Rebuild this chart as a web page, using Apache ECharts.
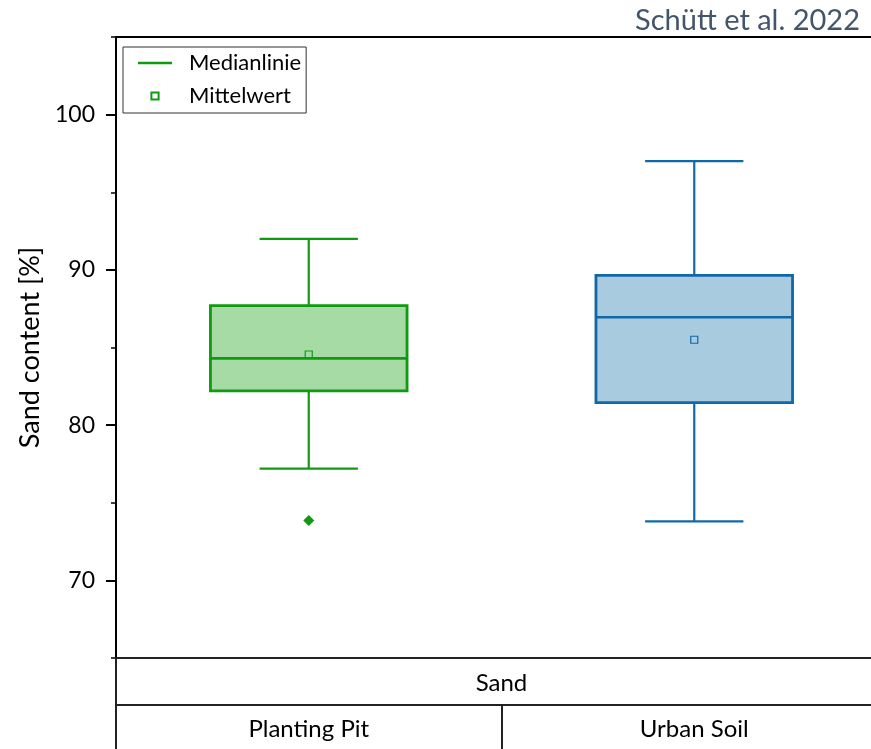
<!DOCTYPE html>
<html>
<head>
<meta charset="utf-8">
<script src="https://cdn.jsdelivr.net/npm/echarts@6/dist/echarts.min.js"></script>
<style>
  html, body { margin: 0; padding: 0; background: #fff; }
  #chart { width: 871px; height: 749px; }
</style>
</head>
<body>
<div id="chart"></div>
<script>
// Sand content per site: box statistics
const categories = ['Planting Pit', 'Urban Soil'];
const groupLabel = ['Sand'];
const lowerWhisker = [77.2, 73.8];
const q1 = [82.2, 81.45];
const median = [84.3, 86.95];
const q3 = [87.7, 89.65];
const upperWhisker = [92.0, 97.0];
const means = [84.55, 85.5];
const outliers = [[0, 73.85]];
const yTickLabels = [70, 80, 90, 100];
const yMinorTicks = [65, 75, 85, 95, 105];

const FONT = 'Lato';
const strokeColors = ['#109A10', '#1068A8'];
const fillColors = ['#A6DBA6', '#A8CBE0'];

const boxData = categories.map((c, i) => [i, lowerWhisker[i], q1[i], median[i], q3[i], upperWhisker[i]]);

function renderBox(params, api) {
  const i = api.value(0);
  const lo = api.coord([i, api.value(1)]);
  const b1 = api.coord([i, api.value(2)]);
  const md = api.coord([i, api.value(3)]);
  const b3 = api.coord([i, api.value(4)]);
  const hi = api.coord([i, api.value(5)]);
  const bw = api.size([1, 0])[0] * 0.51;
  const cw = bw / 2;
  const x = lo[0];
  const stroke = strokeColors[i];
  const fill = fillColors[i];
  const ls = { stroke: stroke, lineWidth: 2.2 };
  return {
    type: 'group',
    children: [
      { type: 'line', shape: { x1: x, y1: hi[1], x2: x, y2: b3[1] }, style: ls },
      { type: 'line', shape: { x1: x, y1: b1[1], x2: x, y2: lo[1] }, style: ls },
      { type: 'line', shape: { x1: x - cw / 2, y1: hi[1], x2: x + cw / 2, y2: hi[1] }, style: ls },
      { type: 'line', shape: { x1: x - cw / 2, y1: lo[1], x2: x + cw / 2, y2: lo[1] }, style: ls },
      { type: 'rect', shape: { x: x - bw / 2, y: b3[1], width: bw, height: b1[1] - b3[1] },
        style: { fill: fill, stroke: stroke, lineWidth: 2.8 } },
      { type: 'line', shape: { x1: x - bw / 2, y1: md[1], x2: x + bw / 2, y2: md[1] },
        style: { stroke: stroke, lineWidth: 2.6 } }
    ]
  };
}

const chart = echarts.init(document.getElementById('chart'), null, { renderer: 'canvas' });

const axisLineStyle = { color: '#000', width: 2 };
const tableLineStyle = { color: '#222', width: 2 };

chart.setOption({
  animation: false,
  backgroundColor: '#fff',
  textStyle: { fontFamily: FONT },
  title: {
    text: 'Schütt et al. 2022',
    right: 6,
    top: 1,
    textStyle: { fontFamily: FONT, fontSize: 29, fontWeight: 'normal', color: '#44546A' }
  },
  legend: {
    data: [
      { name: 'Medianlinie', icon: 'path://M0,0 H34 V2.4 H0 Z', itemStyle: { color: strokeColors[0] } },
      { name: 'Mittelwert' }
    ],
    orient: 'vertical',
    left: 123,
    top: 47,
    itemWidth: 34,
    itemHeight: 9,
    itemGap: 11,
    symbolKeepAspect: true,
    padding: [5, 5, 6, 15],
    borderColor: '#333',
    borderWidth: 1,
    selectedMode: false,
    textStyle: { fontFamily: FONT, fontSize: 22, lineHeight: 22, color: '#000', padding: [0, 0, 0, 12] }
  },
  // the plot runs slightly past the right edge of the canvas
  grid: { left: 116, top: 37, width: 771, height: 621, containLabel: false, outerBoundsMode: 'none' },
  xAxis: [
    {
      type: 'category',
      data: categories,
      position: 'bottom',
      offset: 47,
      axisLine: { show: true, lineStyle: tableLineStyle },
      axisTick: { show: true, length: 44, interval: 0, lineStyle: tableLineStyle },
      axisLabel: { fontFamily: FONT, fontSize: 24, color: '#000', margin: 12 },
      splitLine: { show: false }
    },
    {
      type: 'category',
      data: groupLabel,
      position: 'bottom',
      offset: 0,
      axisLine: { show: true, lineStyle: tableLineStyle },
      axisTick: { show: true, length: 47, interval: 0, lineStyle: tableLineStyle },
      axisLabel: { fontFamily: FONT, fontSize: 24, color: '#000', margin: 13 },
      splitLine: { show: false }
    },
    {
      type: 'category',
      data: categories,
      position: 'top',
      axisLine: { show: true, lineStyle: axisLineStyle },
      axisTick: { show: false },
      axisLabel: { show: false },
      splitLine: { show: false }
    }
  ],
  yAxis: [
    {
      type: 'value',
      min: 65,
      max: 105,
      position: 'left',
      name: 'Sand content [%]',
      nameLocation: 'middle',
      nameGap: 72,
      nameTextStyle: { fontFamily: FONT, fontSize: 27, color: '#000' },
      axisLine: { show: true, lineStyle: axisLineStyle },
      axisTick: { show: true, length: 10, customValues: yTickLabels, lineStyle: { color: '#000', width: 2 } },
      axisLabel: { customValues: yTickLabels, fontFamily: FONT, fontSize: 23, color: '#000', margin: 21 },
      splitLine: { show: false }
    },
    {
      type: 'value',
      min: 65,
      max: 105,
      position: 'left',
      axisLine: { show: false },
      axisTick: { show: true, length: 5, customValues: yMinorTicks, lineStyle: { color: '#000', width: 1.5 } },
      axisLabel: { show: false },
      splitLine: { show: false }
    }
  ],
  series: [
    {
      type: 'custom',
      name: 'Sand',
      xAxisIndex: 0,
      yAxisIndex: 0,
      renderItem: renderBox,
      encode: { x: 0, y: [1, 2, 3, 4, 5] },
      data: boxData,
      z: 2
    },
    {
      type: 'line',
      name: 'Medianlinie',
      data: [],
      symbol: 'none',
      color: strokeColors[0],
      lineStyle: { color: strokeColors[0], width: 2 }
    },
    {
      type: 'line',
      name: 'Mittelwert',
      xAxisIndex: 0,
      yAxisIndex: 0,
      symbol: 'rect',
      symbolSize: 7,
      showSymbol: true,
      lineStyle: { opacity: 0, width: 0 },
      itemStyle: { color: 'rgba(0,0,0,0)', borderColor: strokeColors[0], borderWidth: 1.2 },
      data: means.map((m, i) => ({ value: [i, m], itemStyle: { borderColor: strokeColors[i] } })),
      z: 5
    },
    {
      type: 'scatter',
      name: 'Ausreißer',
      xAxisIndex: 0,
      yAxisIndex: 0,
      symbol: 'diamond',
      symbolSize: 11,
      itemStyle: { color: strokeColors[0], opacity: 1 },
      data: outliers,
      z: 5
    }
  ]
});
</script>
</body>
</html>
